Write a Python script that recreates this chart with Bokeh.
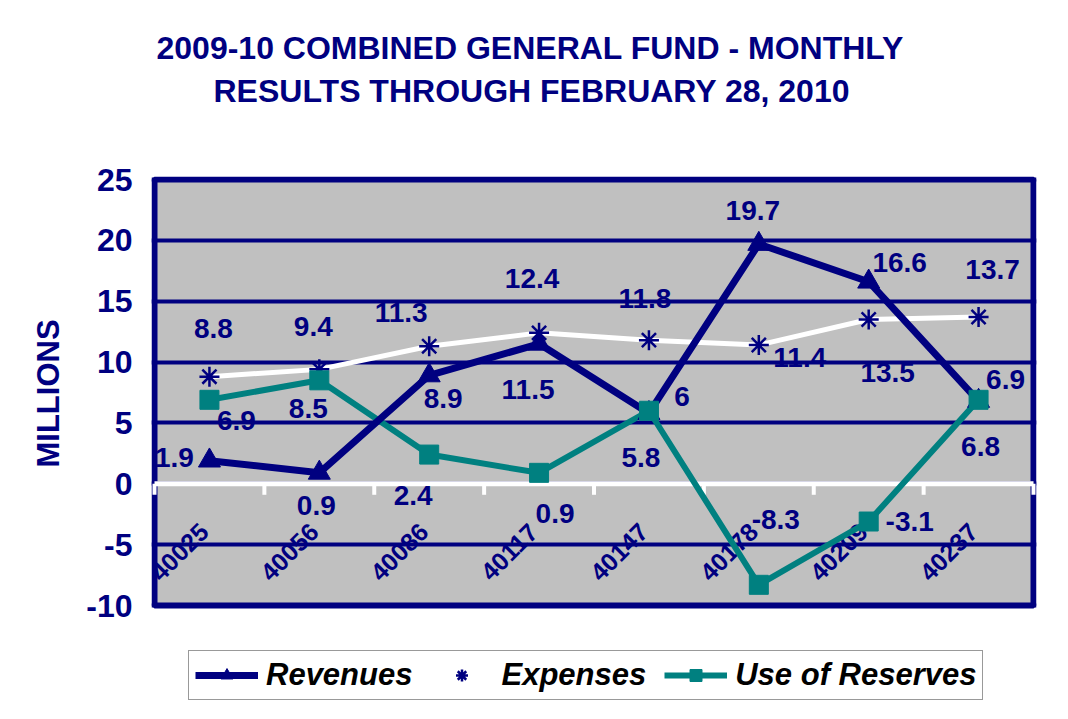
import math
from bokeh.plotting import figure
from bokeh.models import Range1d, FixedTicker, Legend, LegendItem, Title
from bokeh.core.properties import value
from bokeh.embed import file_html
from bokeh.resources import INLINE

# ---------------- data ----------------
months = ["40025", "40056", "40086", "40117", "40147", "40178", "40209", "40237"]
revenues = [1.9, 0.9, 8.9, 11.5, 5.8, 19.7, 16.6, 6.8]
expenses = [8.8, 9.4, 11.3, 12.4, 11.8, 11.4, 13.5, 13.7]
reserves = [6.9, 8.5, 2.4, 0.9, 6, -8.3, -3.1, 6.9]
y_ticks = [-10, -5, 0, 5, 10, 15, 20, 25]
title_lines = ["2009-10 COMBINED GENERAL FUND - MONTHLY", "RESULTS THROUGH FEBRUARY 28, 2010"]
y_title = "MILLIONS"

# label offsets (pixels: right, up) - style only
rev_off = [(-35, 3), (-3, -33), (14, -23), (-11, -46), (-8, -44), (-6, 34), (31, 19), (2, -45)]
exp_off = [(4, 48), (-6, 43), (-28, 34), (-7, 54), (-4, 42), (41, -12), (19, -53), (14, 48)]
res_off = [(27, -21), (-11, -28), (-16, -41), (16, -41), (33, 14), (17, 65), (41, 0), (27, 20)]

NAVY = "#000080"
TEAL = "#008080"
FONT = "Liberation Sans"

PW, PH = 879, 426          # plot area in pixels
PAD = 3                    # frame padding so the thick border is not clipped
LEG = 98                   # room under the plot area for the legend
Y0, Y1 = -10, 25
n = len(months)
pxx = PW / n
pxy = PH / (Y1 - Y0)

p = figure(frame_width=PW + 2 * PAD, frame_height=PH + PAD + LEG, output_backend="svg",
           toolbar_location=None,
           x_range=Range1d(-PAD / pxx, n + PAD / pxx),
           y_range=Range1d(Y0 - LEG / pxy, Y1 + PAD / pxy), x_axis_type=None,
           min_border_left=151, min_border_right=16, min_border_top=176, min_border_bottom=0)
p.background_fill_color = "white"
p.border_fill_color = "white"
p.outline_line_color = None

# titles (first added sits nearest the plot)
p.add_layout(Title(text=" ", text_font_size="1px", standoff=63), "above")
p.add_layout(Title(text=title_lines[1], align="left", offset=62, text_font=FONT, text_font_size="32px",
                   text_font_style="bold", text_color=NAVY, standoff=4), "above")
p.add_layout(Title(text=title_lines[0], align="left", offset=5, text_font=FONT, text_font_size="32px",
                   text_font_style="bold", text_color=NAVY, standoff=6), "above")

# plot area and its border
p.quad(left=[0], right=[n], bottom=[Y0], top=[Y1], fill_color="#C0C0C0", line_color=None, level="image")
p.quad(left=[0], right=[n], bottom=[Y0], top=[Y1], fill_color=None, line_color=NAVY, line_width=6,
       level="underlay")

# y axis
ya = p.yaxis[0]
ya.ticker = FixedTicker(ticks=y_ticks)
ya.major_label_overrides = {t: str(t) for t in y_ticks}
ya.axis_line_color = None
ya.major_tick_line_color = None
ya.minor_tick_line_color = None
ya.major_label_text_font = FONT
ya.major_label_text_font_size = "32px"
ya.major_label_text_font_style = "bold"
ya.major_label_text_color = NAVY
ya.major_label_standoff = 13

p.add_layout(Title(text=y_title, align="left", offset=236, text_font=FONT, text_font_size="31px",
                   text_font_style="bold", text_color=NAVY, standoff=36), "left")

p.ygrid.ticker = FixedTicker(ticks=y_ticks)
p.ygrid.grid_line_color = NAVY
p.ygrid.grid_line_width = 4
p.xgrid.visible = False

# zero axis line with ticks at category boundaries
bx = list(range(n + 1))
p.segment(x0=[0], y0=[0], x1=[n], y1=[0], line_color="white", line_width=5)
p.segment(x0=bx, y0=[0] * (n + 1), x1=bx, y1=[-11 / pxy] * (n + 1), line_color="white", line_width=4)

xs = [i + 0.5 for i in range(n)]

# category labels (rotated)
p.text(x=[x - 30 / pxx for x in xs], y=[-68 / pxy] * n, text=months, angle=math.pi / 4,
       text_font=value(FONT), text_font_size="25px", text_font_style="bold", text_color=NAVY,
       text_align="center", text_baseline="middle")

# series
l_exp = p.line(xs, expenses, line_color="white", line_width=5)
l_res = p.line(xs, reserves, line_color=TEAL, line_width=6)
l_rev = p.line(xs, revenues, line_color=NAVY, line_width=7)
m_rev = p.scatter(xs, revenues, marker="triangle", size=22, fill_color=NAVY, line_color=NAVY)
m_exp = p.scatter(xs, expenses, marker="asterisk", size=20, line_color=NAVY, line_width=2.5)
m_res = p.scatter(xs, reserves, marker="square", size=19, fill_color=TEAL, line_color=TEAL)

def add_labels(vals, offs):
    lx = [x + o[0] / pxx for x, o in zip(xs, offs)]
    ly = [v + o[1] / pxy for v, o in zip(vals, offs)]
    p.text(x=lx, y=ly, text=[f"{v:g}" for v in vals], text_font=value(FONT),
           text_font_size="28px", text_font_style="bold", text_color=NAVY,
           text_align="center", text_baseline="middle")

add_labels(revenues, rev_off)
add_labels(expenses, exp_off)
add_labels(reserves, res_off)

legend = Legend(items=[LegendItem(label="Revenues", renderers=[l_rev, m_rev]),
                       LegendItem(label="Expenses", renderers=[l_exp, m_exp]),
                       LegendItem(label="Use of Reserves", renderers=[l_res, m_res])],
                orientation="horizontal", location=(37, 3),
                label_text_font=FONT, label_text_font_size="31px", label_text_font_style="bold italic",
                label_text_color="black", glyph_width=63, glyph_height=30, label_standoff=8,
                spacing=18, padding=6, margin=0, border_line_color="#333333", border_line_width=1,
                background_fill_color="white")
p.add_layout(legend, "center")

open("out.html", "w").write(file_html(p, INLINE))
